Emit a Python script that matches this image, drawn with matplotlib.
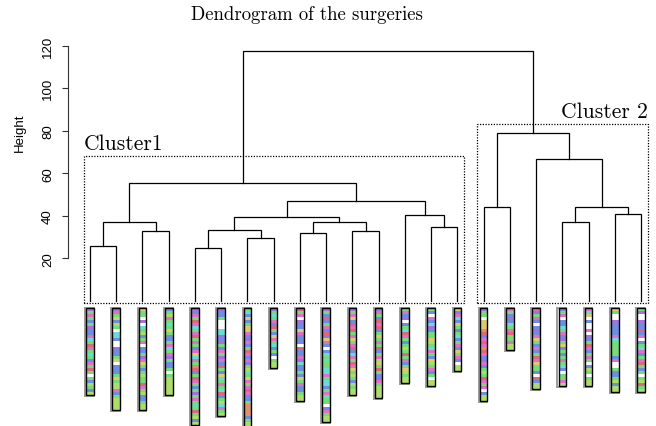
import numpy as np
import matplotlib
matplotlib.use('Agg')
from matplotlib import pyplot as plt
from matplotlib.patches import Rectangle

# merge tree: (left, right, height); leaves are 0..21, merged nodes 22..
merges = [
    (0, 1, 25.9), (2, 3, 32.8), (22, 23, 36.9),
    (4, 5, 25.0), (6, 7, 29.7), (25, 26, 33.5),
    (8, 9, 31.9), (10, 11, 32.8), (28, 29, 36.9),
    (27, 30, 39.6), (13, 14, 34.6), (12, 32, 40.4),
    (31, 33, 47.1), (24, 34, 55.6),
    (15, 16, 44.1), (18, 19, 37.2), (20, 21, 41.0),
    (37, 38, 44.3), (17, 39, 66.9), (36, 40, 79.0),
    (35, 41, 117.7),
]
n_leaves = 22

# clusters: first leaf, last leaf, box top
clusters = [(1, 15, 68.3, 'Cluster1'), (16, 22, 83.2, 'Cluster 2')]

# event sequence of each surgery, top to bottom, one letter per time step
sequences = [
    "pgmgbgpbbmcgrmgcgbmgrgwgblgbl",
    "pmgyblgwccbwwpbbgywbbbgygllmbgllll",
    "yggwpwcglbgmwbbgpmygbglggrmglbbgll",
    "bglmgcgygbbgmcgmpgbbgwgllllll",
    "pbmgrmcgmrgmgbmycmgorbgrmgbgpgmgtgrglbl",
    "pbbgwwwccpbpgbmgpmbrgbycgmgcrbglcmgl",
    "gcbybgyymbpmbgrmbmpglcgymgmrmbbgoooobgll",
    "pgcgmbrgbymgcbgbwgll",
    "rgmwpbbymbbbwrbbmpcbbgbygmbbgll",
    "pgbrbgmbrpymbwbcgtggccmgccbgmtggwbmgll",
    "pgmybrmrgmygmrbcmgrmyglgblgll",
    "pmgbrmrbgygmgrbgmlygrgbpmgllll",
    "gmbpwbgcrmgbglgrgmbgylgll",
    "gbwmbcpbggylgcmgbylgmbgwll",
    "ybmcbygbgcbgmbygmbwll",
    "pggwyyyorbmrmormbpmbglgrmgmwbll",
    "mgbpbcgmrggmll",
    "mpgmbwbpbmygbmbgrmyggbwrbll",
    "bgmwbbcgmbpgybgbgmgcbwggml",
    "mcywbwwmwpbgrmbgmgwblgwgll",
    "ygwwpbbbbmcgggggbmwwgbbglbll",
    "gpwwpbbrbmwbgcmbgmrgbgwglrgl",
]

state_colors = {
    'g': '#74dd7a', 'l': '#aedc6a', 'b': '#6f8ee0', 'p': '#a472e0',
    'm': '#e070c8', 'r': '#e0687e', 'o': '#e0906c', 'y': '#dccb6e',
    'c': '#68dcd8', 't': '#66dfb0', 'w': '#ffffff',
}

yticks = [20, 40, 60, 80, 100, 120]

fig = plt.figure(figsize=(6.56, 4.27), dpi=100)
ax = fig.add_axes([0, 0, 1, 1])
ax.set_xlim(-2.43, 22.57)
ax.set_ylim(-58.9, 142.0)

# dendrogram
xpos = {i: i + 1.0 for i in range(n_leaves)}
ypos = {i: 0.0 for i in range(n_leaves)}
for k, (a, b, h) in enumerate(merges):
    node = n_leaves + k
    ax.plot([xpos[a], xpos[a], xpos[b], xpos[b]], [ypos[a], h, h, ypos[b]],
            color='black', lw=0.9, solid_joinstyle='miter')
    xpos[node] = (xpos[a] + xpos[b]) / 2
    ypos[node] = h

# cluster boxes
for first, last, top, label in clusters:
    x0, x1 = first - 0.24, last + 0.26
    ax.plot([x0, x0, x1, x1, x0], [-1.0, top, top, -1.0, -1.0],
            color='black', lw=0.9, ls=(0, (1, 1.2)))
    if first == 1:
        ax.text(x0, top + 1.3, label, family='cmr10', fontsize=15.5,
                ha='left', va='bottom')
    else:
        ax.text(x1, top + 1.3, label, family='cmr10', fontsize=15.5,
                ha='right', va='bottom')

# sequence strips under the leaves
def leaves_of(n):
    if n < n_leaves:
        return [n]
    a, b, _ = merges[n - n_leaves]
    return leaves_of(a) + leaves_of(b)
order = leaves_of(n_leaves + len(merges) - 1)

unit = 1.41
top = -3.5
w = 0.29
for leaf in order:
    seq = sequences[leaf]
    x = xpos[leaf]
    n = len(seq)
    bottoms = top - unit * (np.arange(n) + 1)
    ax.add_patch(Rectangle((x - w / 2 - 0.04, top - n * unit - 0.5), w + 0.04,
                           n * unit + 0.5, facecolor='none', edgecolor='#9a9a9a',
                           lw=1.4, zorder=2))
    ax.bar(np.full(n, x), unit, bottom=bottoms, width=w,
           color=[state_colors[s] for s in seq], linewidth=0, zorder=3)
    ax.add_patch(Rectangle((x - w / 2, top - n * unit), w, n * unit,
                           facecolor='none', edgecolor='black', lw=1.0, zorder=4))

# axis
for s in ['top', 'right', 'bottom']:
    ax.spines[s].set_visible(False)
ax.spines['left'].set_position(('data', 0.16))
ax.spines['left'].set_bounds(20, 120)
ax.spines['left'].set_color('#333333')
ax.set_xticks([])
ax.set_yticks(yticks)
ax.set_yticklabels([str(t) for t in yticks], rotation=90, va='center',
                   family='Liberation Sans', fontsize=9.5)
ax.tick_params(axis='y', length=4.5, pad=5.5, color='#333333')

fig.text(20 / 656, 1 - 133 / 427, 'Height', rotation=90, ha='center',
         va='center', family='Liberation Sans', fontsize=9.5)
fig.text(307 / 656, 1 - 15 / 427, 'Dendrogram of the surgeries',
         family='cmr10', fontsize=13.5, ha='center', va='center')

fig.savefig('out.png', dpi=100)
